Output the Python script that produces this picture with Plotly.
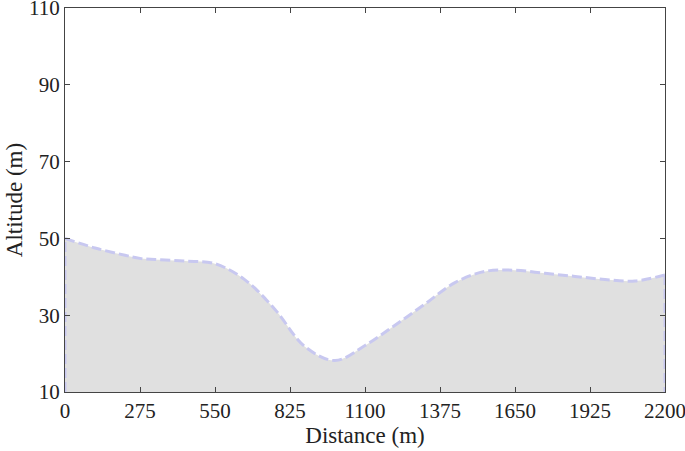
import plotly.graph_objects as go

# Terrain profile
distance = [0, 110, 220, 275, 330, 440, 550, 660, 770, 880, 990, 1100,
            1210, 1320, 1430, 1540, 1650, 1760, 1870, 1980, 2090, 2200]
altitude = [50.0, 47.5, 45.6, 44.8, 44.5, 44.1, 43.4, 39.2, 31.5, 21.8, 18.2, 22.1,
            27.4, 32.9, 38.5, 41.4, 41.7, 40.9, 40.1, 39.3, 38.9, 40.5]
x_ticks = [0, 275, 550, 825, 1100, 1375, 1650, 1925, 2200]
y_ticks = [10, 30, 50, 70, 90, 110]
y_floor = 10

line_style = dict(color="rgb(200,200,240)", width=3, dash="10px,4px")

fig = go.Figure()
fig.add_trace(go.Scatter(x=distance, y=altitude, mode="lines", fill="tozeroy",
                         fillcolor="#e0e0e0", line=dict(shape="spline", **line_style),
                         showlegend=False, hoverinfo="skip"))
# vertical edges of the filled profile
fig.add_trace(go.Scatter(x=[distance[0], distance[0]], y=[y_floor, altitude[0]],
                         mode="lines", line=line_style, showlegend=False))
fig.add_trace(go.Scatter(x=[distance[-1], distance[-1]], y=[altitude[-1], y_floor],
                         mode="lines", line=line_style, showlegend=False))

axis_style = dict(showgrid=False, zeroline=False, showline=True, linecolor="#444444",
                  linewidth=1, mirror="ticks", ticks="inside", ticklen=5,
                  tickcolor="#444444", tickfont=dict(size=21, color="#222222"),
                  title_font=dict(size=23, color="#222222"),
                  automargin=False, ticklabeloverflow="allow")

fig.update_layout(width=685, height=451, margin=dict(l=65, r=20, t=8, b=59),
                  paper_bgcolor="white", plot_bgcolor="white",
                  font=dict(family="Liberation Serif"))
fig.update_xaxes(range=[0, 2200], tickvals=x_ticks, title_text="Distance (m)",
                 title_standoff=0, **axis_style)
fig.update_yaxes(range=[10, 110], tickvals=y_ticks, title_text="Altitude (m)",
                 title_standoff=0, **axis_style)

# drop the default page margin so the figure fills the window
fig.write_html("out.html", config=dict(displayModeBar=False),
               post_script="document.body.style.margin='0';")
